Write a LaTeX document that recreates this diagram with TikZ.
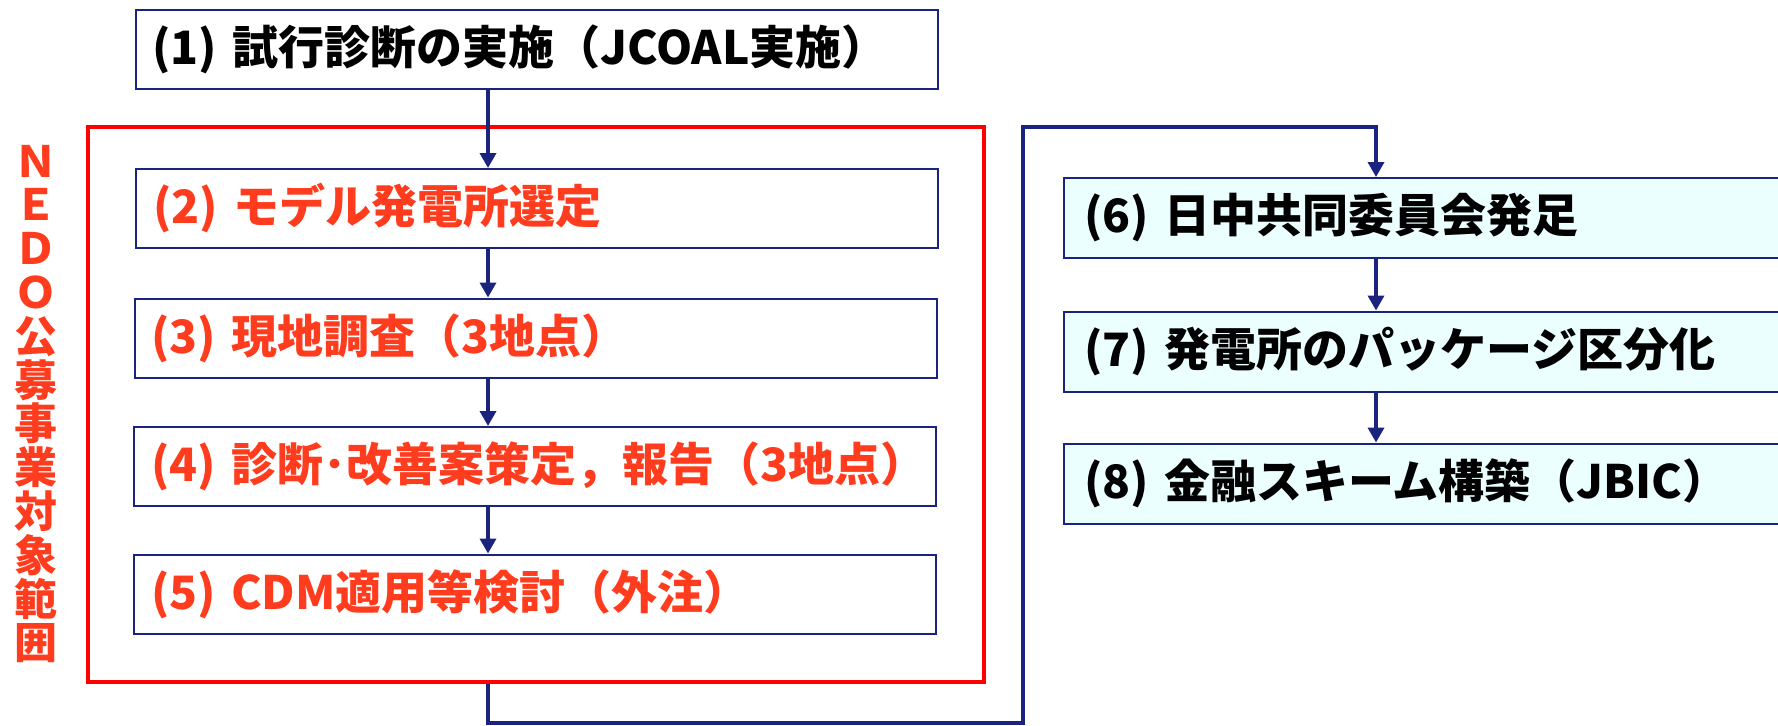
\documentclass[tikz,border=0pt]{standalone}
\usepackage{fontspec}
\newfontfamily\jp{Noto Sans CJK JP}
\definecolor{navy}{RGB}{26,35,126}
\definecolor{boxred}{RGB}{255,0,0}
\definecolor{txtred}{RGB}{255,60,30}
\definecolor{paleCyan}{RGB}{236,255,255}
\tikzset{
  flowbox/.style={draw=navy, line width=1pt, rectangle, inner xsep=8.5pt, inner ysep=0pt,
    align=left, font=\jp\bfseries\fontsize{23}{27}\selectfont},
  leftbox/.style={flowbox, fill=white, text width=384pt, minimum height=39.5pt},
  rightbox/.style={flowbox, fill=paleCyan, inner xsep=10pt, text width=343pt, minimum height=40pt},
  conn/.style={draw=navy, line width=1.75pt},
  arr/.style={conn, -{Triangle[length=7.5pt,width=8pt]}},
}
\usetikzlibrary{arrows.meta}
\begin{document}
\begin{tikzpicture}[x=0.5pt,y=-0.5pt]
\useasboundingbox (0,0) rectangle (1778,725);
\clip (0,0) rectangle (1778,725);
% red range frame
\node[draw=boxred, line width=2.2pt, minimum width=448pt, minimum height=277.5pt, inner sep=0pt] (range) at (536,404.5) {};
\node[text=txtred, align=center, inner sep=0pt, font=\jp\bfseries\fontsize{21.5}{21.9}\selectfont] (nedo) at (36,404)
  {Ｎ\\Ｅ\\Ｄ\\Ｏ\\公\\募\\事\\業\\対\\象\\範\\囲};
% left column
\node[leftbox] (b1) at (536.5,49) {(1) 試行診断の実施（JCOAL実施）};
\node[leftbox, text=txtred] (b2) at (537,208.5) {(2) モデル発電所選定};
\node[leftbox, text=txtred] (b3) at (535.5,338) {(3) 現地調査（3地点）};
\node[leftbox, text=txtred] (b4) at (535,466.5) {(4) 診断･改善案策定，報告（3地点）};
\node[leftbox, text=txtred] (b5) at (535,594) {(5) CDM適用等検討（外注）};
% right column
\node[rightbox] (b6) at (1427,218) {(6) 日中共同委員会発足};
\node[rightbox] (b7) at (1427,351.5) {(7) 発電所のパッケージ区分化};
\node[rightbox] (b8) at (1427,483.5) {(8) 金融スキーム構築（JBIC）};
% columns and route points
\coordinate (lc) at (488,0);
\coordinate (rc) at (1376,0);
\coordinate (p1) at (488,723);
\coordinate (p2) at (1023,723);
\coordinate (p3) at (1023,127);
\coordinate (p4) at (1376,127);
% connectors
\draw[arr] (b1.south -| lc) -- (b2.north -| lc);
\draw[arr] (b2.south -| lc) -- (b3.north -| lc);
\draw[arr] (b3.south -| lc) -- (b4.north -| lc);
\draw[arr] (b4.south -| lc) -- (b5.north -| lc);
\draw[arr] (range.south -| lc) -- (p1) -- (p2) -- (p3) -- (p4) -- (b6.north -| rc);
\draw[arr] (b6.south -| rc) -- (b7.north -| rc);
\draw[arr] (b7.south -| rc) -- (b8.north -| rc);
\end{tikzpicture}
\end{document}
